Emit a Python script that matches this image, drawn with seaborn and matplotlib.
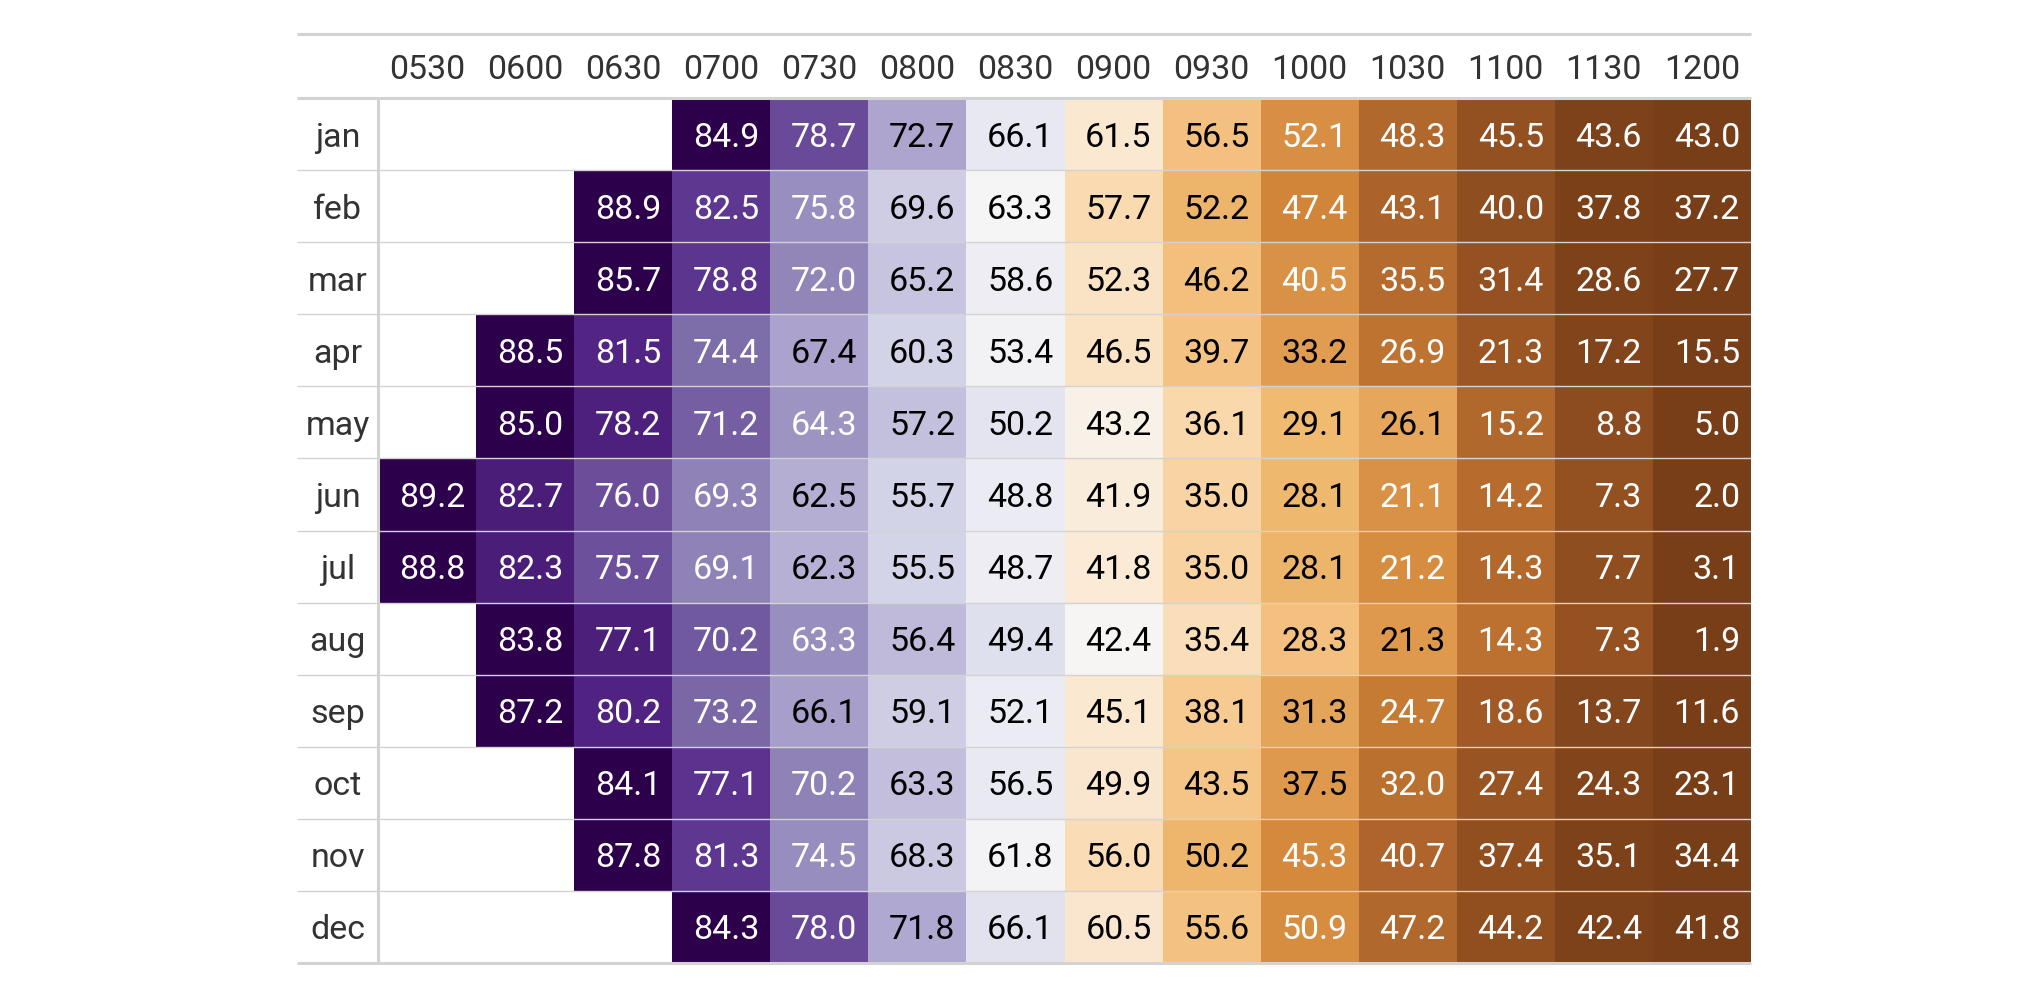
"""
Sun-angle style table: row-normalised heatmap (PuOr, Lab-interpolated like gt's data_color)
with gt-like rules and right-aligned numbers.
"""
import numpy as np
import pandas as pd
import matplotlib
matplotlib.use("Agg")
import matplotlib.pyplot as plt
from matplotlib.colors import ListedColormap, to_rgb
from matplotlib.lines import Line2D
import seaborn as sns

sns.set_style("white")
plt.rcParams["font.family"] = ["Roboto", "DejaVu Sans"]

# ---- data -------------------------------------------------------------------
TIMES = ["0530", "0600", "0630", "0700", "0730", "0800", "0830",
         "0900", "0930", "1000", "1030", "1100", "1130", "1200"]
MONTHS = ["jan", "feb", "mar", "apr", "may", "jun",
          "jul", "aug", "sep", "oct", "nov", "dec"]
NA = np.nan
jan = [NA, NA, NA, 84.9, 78.7, 72.7, 66.1, 61.5, 56.5, 52.1, 48.3, 45.5, 43.6, 43.0]
feb = [NA, NA, 88.9, 82.5, 75.8, 69.6, 63.3, 57.7, 52.2, 47.4, 43.1, 40.0, 37.8, 37.2]
mar = [NA, NA, 85.7, 78.8, 72.0, 65.2, 58.6, 52.3, 46.2, 40.5, 35.5, 31.4, 28.6, 27.7]
apr = [NA, 88.5, 81.5, 74.4, 67.4, 60.3, 53.4, 46.5, 39.7, 33.2, 26.9, 21.3, 17.2, 15.5]
may = [NA, 85.0, 78.2, 71.2, 64.3, 57.2, 50.2, 43.2, 36.1, 29.1, 26.1, 15.2, 8.8, 5.0]
jun = [89.2, 82.7, 76.0, 69.3, 62.5, 55.7, 48.8, 41.9, 35.0, 28.1, 21.1, 14.2, 7.3, 2.0]
jul = [88.8, 82.3, 75.7, 69.1, 62.3, 55.5, 48.7, 41.8, 35.0, 28.1, 21.2, 14.3, 7.7, 3.1]
aug = [NA, 83.8, 77.1, 70.2, 63.3, 56.4, 49.4, 42.4, 35.4, 28.3, 21.3, 14.3, 7.3, 1.9]
sep = [NA, 87.2, 80.2, 73.2, 66.1, 59.1, 52.1, 45.1, 38.1, 31.3, 24.7, 18.6, 13.7, 11.6]
oct_ = [NA, NA, 84.1, 77.1, 70.2, 63.3, 56.5, 49.9, 43.5, 37.5, 32.0, 27.4, 24.3, 23.1]
nov = [NA, NA, 87.8, 81.3, 74.5, 68.3, 61.8, 56.0, 50.2, 45.3, 40.7, 37.4, 35.1, 34.4]
dec = [NA, NA, NA, 84.3, 78.0, 71.8, 66.1, 60.5, 55.6, 50.9, 47.2, 44.2, 42.4, 41.8]

# PuOr-like ramp (orange half slightly muted, as rendered in the reference)
PUOR = ["#783E18", "#A65D27", "#D3873A", "#F0B970", "#FADCB4", "#F7F7F7",
        "#D8DAEB", "#B2ABD2", "#8073AC", "#542788", "#2D004B"]

# ---- layout (pixels of the 2044x1008 canvas) --------------------------------
W, H = 2044, 1008
TBL_L, STUB_R, TBL_R = 297, 378, 1751
TOP, HEAD_B, BOT = 34, 98, 963
RULE = "#d3d3d3"
PAD = 11  # right padding of numbers inside a cell, px
FS = 24.5


def _to_lab(rgb):
    lin = np.where(rgb <= 0.04045, rgb / 12.92, ((rgb + 0.055) / 1.055) ** 2.4)
    M = np.array([[0.4124, 0.3576, 0.1805], [0.2126, 0.7152, 0.0722], [0.0193, 0.1192, 0.9505]])
    f = (lin @ M.T) / np.array([0.95047, 1.0, 1.08883])
    d = 6 / 29
    f = np.where(f > d ** 3, np.cbrt(f), f / (3 * d * d) + 4 / 29)
    return np.stack([116 * f[:, 1] - 16, 500 * (f[:, 0] - f[:, 1]), 200 * (f[:, 1] - f[:, 2])], -1)


def _from_lab(lab):
    d = 6 / 29
    fy = (lab[:, 0] + 16) / 116
    f = np.stack([fy + lab[:, 1] / 500, fy, fy - lab[:, 2] / 200], -1)
    xyz = np.where(f > d, f ** 3, 3 * d * d * (f - 4 / 29)) * np.array([0.95047, 1.0, 1.08883])
    Minv = np.linalg.inv(np.array([[0.4124, 0.3576, 0.1805], [0.2126, 0.7152, 0.0722],
                                   [0.0193, 0.1192, 0.9505]]))
    lin = np.clip(xyz @ Minv.T, 0, 1)
    return np.clip(np.where(lin <= 0.0031308, lin * 12.92, 1.055 * lin ** (1 / 2.4) - 0.055), 0, 1)


def lab_cmap(colors, n=256):
    lab = _to_lab(np.array([to_rgb(c) for c in colors]))
    nodes = np.linspace(0, 1, len(colors))
    t = np.linspace(0, 1, n)
    out = np.stack([np.interp(t, nodes, lab[:, k]) for k in range(3)], -1)
    return ListedColormap(_from_lab(out))


values = pd.DataFrame([jan, feb, mar, apr, may, jun, jul, aug, sep, oct_, nov, dec],
                      index=MONTHS, columns=TIMES)
# colour scale runs per row (min -> brown, max -> purple)
lo = values.min(axis=1)
hi = values.max(axis=1)
scaled = values.sub(lo, axis=0).div(hi - lo, axis=0)

fig = plt.figure(figsize=(W / 100, H / 100), dpi=100)
ax = fig.add_axes([STUB_R / W, 1 - BOT / H, (TBL_R - STUB_R) / W, (BOT - HEAD_B) / H])
sns.heatmap(scaled, cmap=lab_cmap(PUOR), vmin=0, vmax=1, annot=values, fmt=".1f",
            annot_kws={"fontsize": FS}, cbar=False, ax=ax, linewidths=0)

cell_w = (TBL_R - STUB_R) / len(TIMES)
pad = PAD / cell_w
for t in ax.texts:
    x, y = t.get_position()
    i, j = int(y), int(x)
    s = scaled.iat[i, j]
    t.set_x(j + 1 - pad)
    t.set_ha("right")
    t.set_va("center_baseline")
    t.set_color("white" if (s < 0.228 or s > 0.73) else "black")

ax.xaxis.tick_top()
ax.set_xticks(np.arange(len(TIMES)) + 1 - pad, labels=TIMES)
for lab in ax.get_xticklabels():
    lab.set_ha("right")
    lab.set_va("center_baseline")
ax.set_yticks(np.arange(len(MONTHS)) + 0.5, labels=MONTHS)
for lab in ax.get_yticklabels():
    lab.set_ha("center")
    lab.set_va("center_baseline")
    lab.set_rotation(0)
ax.tick_params(axis="x", length=0, pad=(HEAD_B - (TOP + HEAD_B) / 2) * 0.72,
               labelsize=FS, labelcolor="#333333")
ax.tick_params(axis="y", length=0, pad=(STUB_R - (TBL_L + STUB_R) / 2) * 0.72,
               labelsize=FS, labelcolor="#333333")
ax.set_xlabel("")
ax.set_ylabel("")


def rule(x0, x1, y0, y1, lw):
    fig.add_artist(Line2D([x0 / W, x1 / W], [1 - y0 / H, 1 - y1 / H],
                          transform=fig.transFigure, color=RULE, lw=lw,
                          solid_capstyle="butt"))


row_h = (BOT - HEAD_B) / len(MONTHS)
for i in range(1, len(MONTHS)):
    y = HEAD_B + i * row_h
    rule(TBL_L, TBL_R, y, y, 1.0)
rule(TBL_L, TBL_R, TOP, TOP, 2.2)
rule(TBL_L, TBL_R, HEAD_B, HEAD_B, 2.2)
rule(TBL_L, TBL_R, BOT, BOT, 2.2)
rule(STUB_R, STUB_R, HEAD_B, BOT, 2.2)

fig.savefig("out.png", dpi=100, facecolor="white")
